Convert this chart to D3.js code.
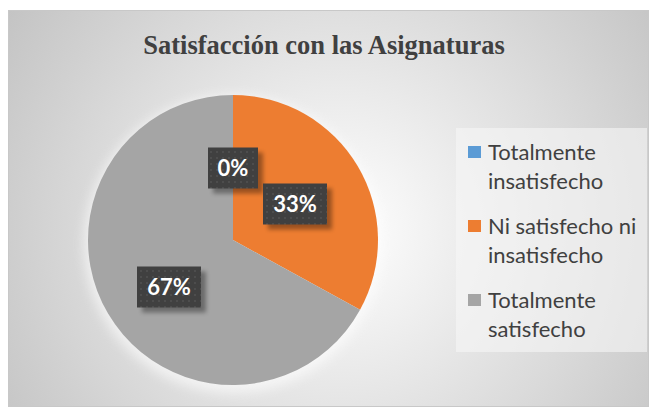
<!DOCTYPE html>
<html lang="es">
<head>
  <meta charset="UTF-8">
  <title>Satisfacción con las Asignaturas</title>
  <style>
    body { margin: 0; background: #fff; }
    svg { display: block; }
  </style>
</head>
<body>
  <svg width="649" height="407"></svg>
  <script src="https://d3js.org/d3.v7.min.js"></script>
  <script>
  const categories = ["Totalmente insatisfecho", "Ni satisfecho ni insatisfecho", "Totalmente satisfecho"];
  const legendLines = [["Totalmente", "insatisfecho"], ["Ni satisfecho ni", "insatisfecho"], ["Totalmente", "satisfecho"]];
  const values = [0, 33, 67];
  const colors = ["#5B9BD5", "#ED7D31", "#A5A5A5"];

  const svg = d3.select("svg");
  const defs = svg.append("defs");

  // chart background: soft radial gradient
  const grad = defs.append("radialGradient").attr("id", "bg")
    .attr("gradientUnits", "userSpaceOnUse")
    .attr("cx", 340).attr("cy", 230).attr("r", 430);
  grad.append("stop").attr("offset", "0%").attr("stop-color", "#ffffff");
  grad.append("stop").attr("offset", "100%").attr("stop-color", "#bfbfbf");

  const blur = defs.append("filter").attr("id", "soft").attr("x", "-30%").attr("y", "-30%").attr("width", "160%").attr("height", "160%");
  blur.append("feGaussianBlur").attr("stdDeviation", 6);

  const lblShadow = defs.append("filter").attr("id", "lblsh").attr("x", "-30%").attr("y", "-30%").attr("width", "160%").attr("height", "160%");
  lblShadow.append("feGaussianBlur").attr("stdDeviation", 2);

  const pat = defs.append("pattern").attr("id", "dots")
    .attr("width", 6).attr("height", 6).attr("patternUnits", "userSpaceOnUse");
  pat.append("rect").attr("width", 6).attr("height", 6).attr("fill", "#404040");
  pat.append("rect").attr("x", 1).attr("y", 1).attr("width", 2).attr("height", 2).attr("fill", "#4d4d4d");

  svg.append("rect")
    .attr("x", 8.5).attr("y", 10.5).attr("width", 640).attr("height", 396)
    .attr("fill", "url(#bg)").attr("stroke", "#c8c8c8");

  svg.append("text")
    .attr("x", 324).attr("y", 54)
    .attr("text-anchor", "middle")
    .attr("font-family", "'Liberation Serif', 'Times New Roman', serif")
    .attr("font-weight", "bold").attr("font-size", 26.5)
    .attr("fill", "#404040")
    .text("Satisfacción con las Asignaturas");

  // pie
  const cx = 233, cy = 240, r = 145;
  const pie = d3.pie().sort(null).value(d => d);
  const arcs = pie(values);
  const arc = d3.arc().innerRadius(0).outerRadius(r);

  const g = svg.append("g").attr("transform", `translate(${cx},${cy})`);
  g.append("circle").attr("r", r + 4).attr("cy", 4)
    .attr("fill", "#ffffff").attr("opacity", 0.6).attr("filter", "url(#soft)");
  g.selectAll("path.slice")
    .data(arcs)
    .join("path")
    .attr("class", "slice")
    .attr("d", arc)
    .attr("fill", (d, i) => colors[i]);

  // data labels
  const labelPos = [[0, -72], [62, -36], [-64, 47]];
  const lbl = g.selectAll("g.lbl")
    .data(arcs)
    .join("g")
    .attr("class", "lbl")
    .attr("transform", (d, i) => `translate(${labelPos[i][0]},${labelPos[i][1]})`);
  lbl.each(function(d) {
    const t = Math.round(d.data) + "%";
    const w = t.length === 2 ? 50 : 64, h = 41;
    const s = d3.select(this);
    s.append("rect").attr("x", -w / 2 + 5).attr("y", -h / 2 + 5).attr("width", w).attr("height", h)
      .attr("fill", "#000").attr("opacity", 0.35).attr("filter", "url(#lblsh)");
    s.append("rect").attr("x", -w / 2).attr("y", -h / 2).attr("width", w).attr("height", h)
      .attr("fill", "url(#dots)");
    s.append("text").attr("text-anchor", "middle").attr("dy", "0.36em")
      .attr("font-family", "Lato, 'Open Sans', sans-serif").attr("font-weight", "bold")
      .attr("font-size", 22).attr("fill", "#fff")
      .text(t);
  });

  // legend
  const lg = svg.append("g");
  lg.append("rect").attr("x", 456).attr("y", 128).attr("width", 191).attr("height", 224)
    .attr("fill", "#f7f7f7").attr("opacity", 0.6);
  const itemY = [152, 226, 300];
  const items = lg.selectAll("g.item")
    .data(categories)
    .join("g")
    .attr("class", "item")
    .attr("transform", (d, i) => `translate(468,${itemY[i]})`);
  items.append("rect").attr("x", 0).attr("y", -6).attr("width", 13).attr("height", 12)
    .attr("fill", (d, i) => colors[i]);
  items.each(function(d, i) {
    const s = d3.select(this);
    legendLines[i].forEach((line, j) => {
      s.append("text").attr("x", 20).attr("y", j * 29).attr("dy", "0.36em")
        .attr("font-family", "Lato, 'Open Sans', sans-serif").attr("font-size", 22)
        .attr("fill", "#404040")
        .text(line);
    });
  });
  </script>
</body>
</html>
